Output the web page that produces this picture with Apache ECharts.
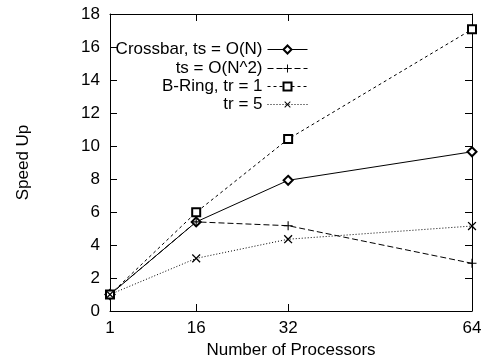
<!DOCTYPE html>
<html><head><meta charset="utf-8">
<script src="https://cdn.jsdelivr.net/npm/echarts@6/dist/echarts.min.js"></script>
<style>html,body{margin:0;padding:0;background:#fff}#c{width:489px;height:360px}</style>
</head><body><div id="c"></div>
<script>
const processors = [1, 16, 32, 64];
const crossbarN = [1, 5.4, 7.92, 9.65];
const crossbarN2 = [1, 5.4, 5.17, 2.89];
const bringTr1 = [1, 5.98, 10.42, 17.07];
const bringTr5 = [1, 3.19, 4.35, 5.15];
const seriesNames = ['Crossbar, ts = O(N)', 'ts = O(N^2)', 'B-Ring, tr = 1', 'tr = 5'];
const yTicks = [0, 2, 4, 6, 8, 10, 12, 14, 16, 18];

const FONT = 'Liberation Sans';
const FS = 17;
const chart = echarts.init(document.getElementById('c'), null, {renderer: 'canvas'});
const pairs = arr => processors.map((p, i) => [p, arr[i]]);
const plusPath = 'path://M4.4,0H5.6V4.4H10V5.6H5.6V10H4.4V5.6H0V4.4H4.4Z';

function mk(name, data, symbol, size, dash, rotate, bw) {
  return {
    name, type: 'line', data: pairs(data), symbol, symbolSize: size,
    symbolRotate: rotate || 0, showAllSymbol: true,
    lineStyle: {color: '#000', width: 1, type: dash},
    itemStyle: {color: '#000', borderColor: '#000', borderWidth: bw},
    emphasis: {disabled: true}, animation: false, z: 3
  };
}

const legendCenters = [46, 65, 83, 101];
const legends = seriesNames.map((n, i) => ({
  data: [n], right: 176, top: legendCenters[i] - 10, orient: 'vertical', align: 'right',
  itemWidth: 40, itemHeight: 10, itemGap: 0,
  lineStyle: {width: 1},
  itemStyle: {borderWidth: i === 0 || i === 2 ? 0.7 : 0},
  textStyle: {fontFamily: FONT, fontSize: FS, color: '#000'},
  selectedMode: false
}));

chart.setOption({
  animation: false,
  backgroundColor: '#fff',
  grid: {left: 110, right: 17, top: 14, bottom: 49, containLabel: false, outerBoundsMode: 'none'},
  legend: legends,
  xAxis: [{
    type: 'value', min: 1, max: 64, position: 'bottom',
    name: 'Number of Processors', nameLocation: 'middle', nameGap: 28,
    nameTextStyle: {fontFamily: FONT, fontSize: FS, color: '#000'},
    axisLine: {show: true, onZero: false, lineStyle: {color: '#000', width: 1}},
    axisTick: {show: true, inside: true, length: 7, customValues: processors, lineStyle: {color: '#000'}},
    axisLabel: {show: true, customValues: processors, margin: 9, fontFamily: FONT, fontSize: FS, color: '#000'},
    splitLine: {show: false}
  }, {
    type: 'value', min: 1, max: 64, position: 'top',
    axisLine: {show: true, onZero: false, lineStyle: {color: '#000', width: 1}},
    axisTick: {show: true, inside: true, length: 7, customValues: processors, lineStyle: {color: '#000'}},
    axisLabel: {show: false}, splitLine: {show: false}
  }],
  yAxis: [{
    type: 'value', min: 0, max: 18, interval: 2, position: 'left',
    name: 'Speed Up', nameLocation: 'middle', nameGap: 78,
    nameTextStyle: {fontFamily: FONT, fontSize: FS, color: '#000'},
    axisLine: {show: true, onZero: false, lineStyle: {color: '#000', width: 1}},
    axisTick: {show: true, inside: true, length: 7, lineStyle: {color: '#000'}},
    axisLabel: {show: true, margin: 10, fontFamily: FONT, fontSize: FS, color: '#000',
      formatter: v => yTicks.indexOf(v) >= 0 ? String(v) : ''},
    splitLine: {show: false}
  }, {
    type: 'value', min: 0, max: 18, interval: 2, position: 'right',
    axisLine: {show: true, onZero: false, lineStyle: {color: '#000', width: 1}},
    axisTick: {show: true, inside: true, length: 7, lineStyle: {color: '#000'}},
    axisLabel: {show: false}, splitLine: {show: false}
  }],
  series: [
    mk(seriesNames[0], crossbarN, 'emptyDiamond', 9, 'solid', 0, 0.7),
    mk(seriesNames[1], crossbarN2, plusPath, 9, [6, 3], 0, 0),
    mk(seriesNames[2], bringTr1, 'emptyRect', 8, [3, 3], 0, 0.6),
    mk(seriesNames[3], bringTr5, plusPath, 11, [1, 2], 45, 0)
  ]
});
</script></body></html>
